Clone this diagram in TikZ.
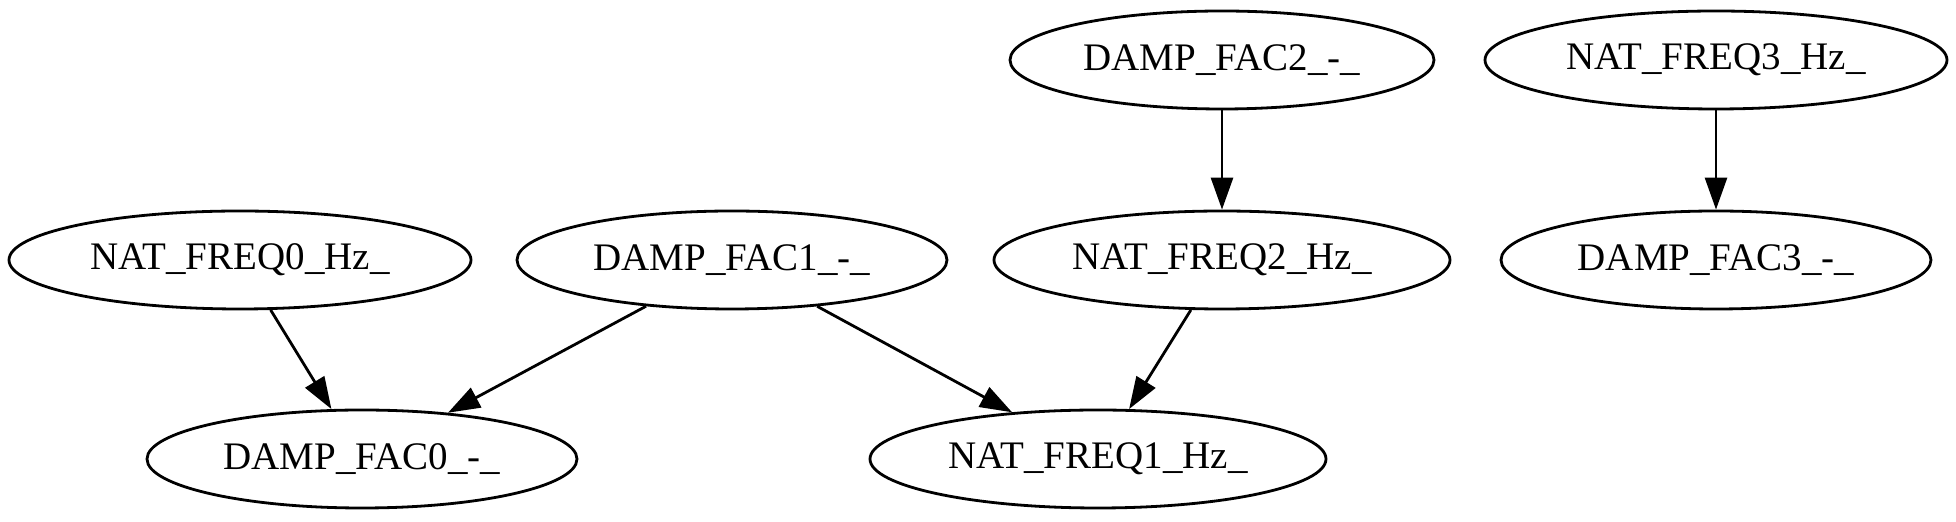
\documentclass[tikz,border=0pt]{standalone}
\usepackage{fontspec}
\setmainfont{Liberation Serif}
\usetikzlibrary{arrows.meta,shapes.geometric}
\begin{document}
\begin{tikzpicture}[x=0.5pt,y=-0.5pt,
  gnode/.style={draw,ellipse,line width=1.4pt,inner sep=0pt,
    minimum height=98pt*0.5,font=\fontsize{19.5}{20}\selectfont},
  gedge/.style={draw,line width=1.4pt,-{Triangle[length=16pt,width=11pt]}}]
\useasboundingbox (0,0) rectangle (1956,522);
\node[gnode,minimum width=424pt*0.5] (df2) at (1222,60) {DAMP\_FAC2\_-\_};
\node[gnode,minimum width=462pt*0.5] (nf3) at (1716,60) {NAT\_FREQ3\_Hz\_};
\node[gnode,minimum width=462pt*0.5] (nf0) at (240,260) {NAT\_FREQ0\_Hz\_};
\node[gnode,minimum width=430pt*0.5] (df1) at (732,260) {DAMP\_FAC1\_-\_};
\node[gnode,minimum width=456pt*0.5] (nf2) at (1222,260) {NAT\_FREQ2\_Hz\_};
\node[gnode,minimum width=430pt*0.5] (df3) at (1716,260) {DAMP\_FAC3\_-\_};
\node[gnode,minimum width=430pt*0.5] (df0) at (362,459) {DAMP\_FAC0\_-\_};
\node[gnode,minimum width=456pt*0.5] (nf1) at (1098,459) {NAT\_FREQ1\_Hz\_};
\draw[gedge] (df2) -- (nf2);
\draw[gedge] (nf3) -- (df3);
\draw[gedge] (nf0) -- (df0);
\draw[gedge] (df1) -- (df0);
\draw[gedge] (df1) -- (nf1);
\draw[gedge] (nf2) -- (nf1);
\end{tikzpicture}
\end{document}
